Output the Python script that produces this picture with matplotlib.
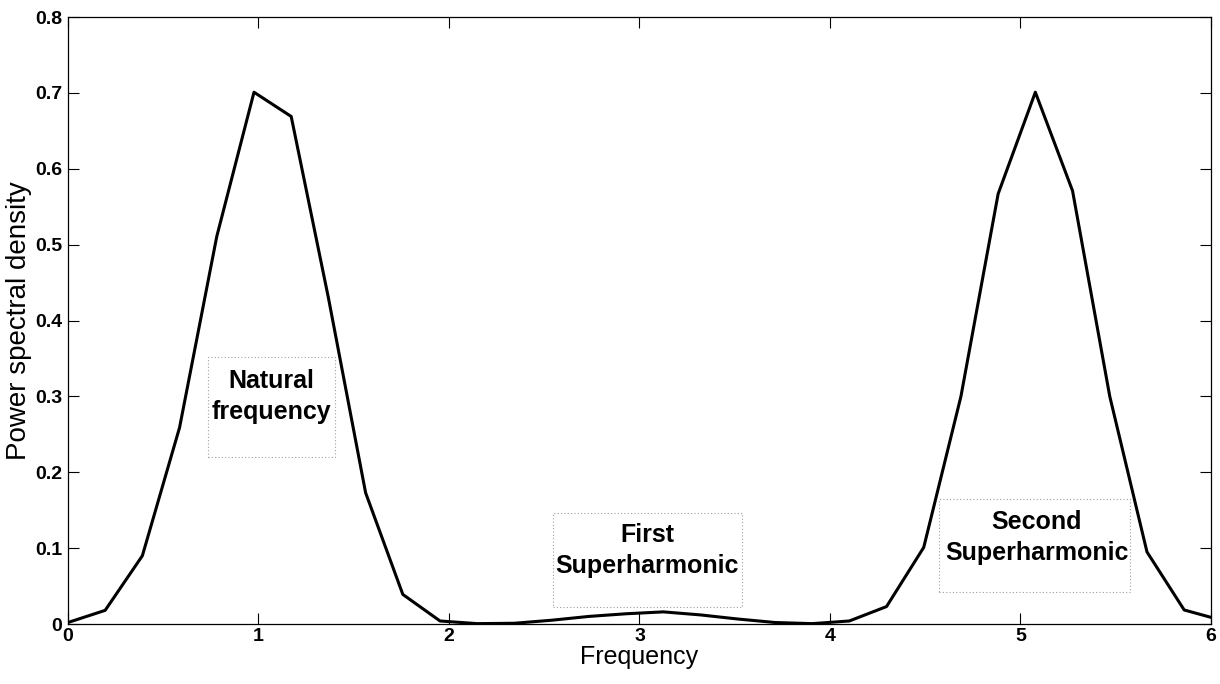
import matplotlib
matplotlib.use("Agg")
import matplotlib.pyplot as plt
from matplotlib.patches import Rectangle

# Frequency bins (spacing 25/128) and PSD values
freq = [0.0, 0.1953, 0.3906, 0.5859, 0.7813, 0.9766, 1.1719, 1.3672, 1.5625, 1.7578,
        1.9531, 2.1484, 2.3438, 2.5391, 2.7344, 2.9297, 3.1250, 3.3203, 3.5156, 3.7109,
        3.9063, 4.1016, 4.2969, 4.4922, 4.6875, 4.8828, 5.0781, 5.2734, 5.4688, 5.6641,
        5.8594, 6.0547]
psd = [0.002, 0.018, 0.090, 0.259, 0.511, 0.701, 0.669, 0.430, 0.173, 0.039,
       0.004, 0.0005, 0.001, 0.005, 0.010, 0.0135, 0.016, 0.012, 0.0066, 0.002,
       0.0005, 0.004, 0.023, 0.101, 0.300, 0.567, 0.701, 0.571, 0.300, 0.095,
       0.0185, 0.005]

x_ticks = [0, 1, 2, 3, 4, 5, 6]
y_ticks = [0, 0.1, 0.2, 0.3, 0.4, 0.5, 0.6, 0.7, 0.8]
y_tick_labels = ["0", "0.1", "0.2", "0.3", "0.4", "0.5", "0.6", "0.7", "0.8"]

# annotation boxes: (text, text x, text y, box x0, box y0, box width, box height)
notes = [
    ("Natural\nfrequency", 1.066, 0.300, 0.735, 0.220, 0.665, 0.132),
    ("First\nSuperharmonic", 3.04, 0.097, 2.546, 0.022, 0.992, 0.124),
    ("Second\nSuperharmonic", 5.087, 0.114, 4.572, 0.042, 1.003, 0.123),
]

plt.rcParams['font.family'] = ['Liberation Sans', 'DejaVu Sans']

fig = plt.figure(figsize=(12.2, 6.84), dpi=100)
ax = fig.add_axes([0.0557, 0.0877, 0.9369, 0.8873])

ax.plot(freq, psd, color="black", linewidth=2.2)

for text, tx, ty, bx, by, bw, bh in notes:
    ax.add_patch(Rectangle((bx, by), bw, bh, fill=False, edgecolor="#a0a0a0",
                           linestyle=(0, (1, 2)), linewidth=0.8))
    ax.text(tx, ty, text, ha="center", va="center", fontsize=18,
            fontweight="bold", linespacing=1.4)

ax.set_xlim(0, 6)
ax.set_ylim(0, 0.8)
ax.set_xticks(x_ticks)
ax.set_xticklabels([str(t) for t in x_ticks], fontsize=14, fontweight="bold")
ax.set_yticks(y_ticks)
ax.set_yticklabels(y_tick_labels, fontsize=14, fontweight="bold")

ax.tick_params(direction="in", length=8, width=0.8, top=True, right=True)
ax.tick_params(axis="x", pad=3)
ax.tick_params(axis="y", pad=4)
for s in ax.spines.values():
    s.set_linewidth(0.9)

ax.set_xlabel("Frequency", fontsize=18, labelpad=0)
ax.set_ylabel("Power spectral density", fontsize=20, labelpad=2)

fig.savefig("out.png", dpi=100)
